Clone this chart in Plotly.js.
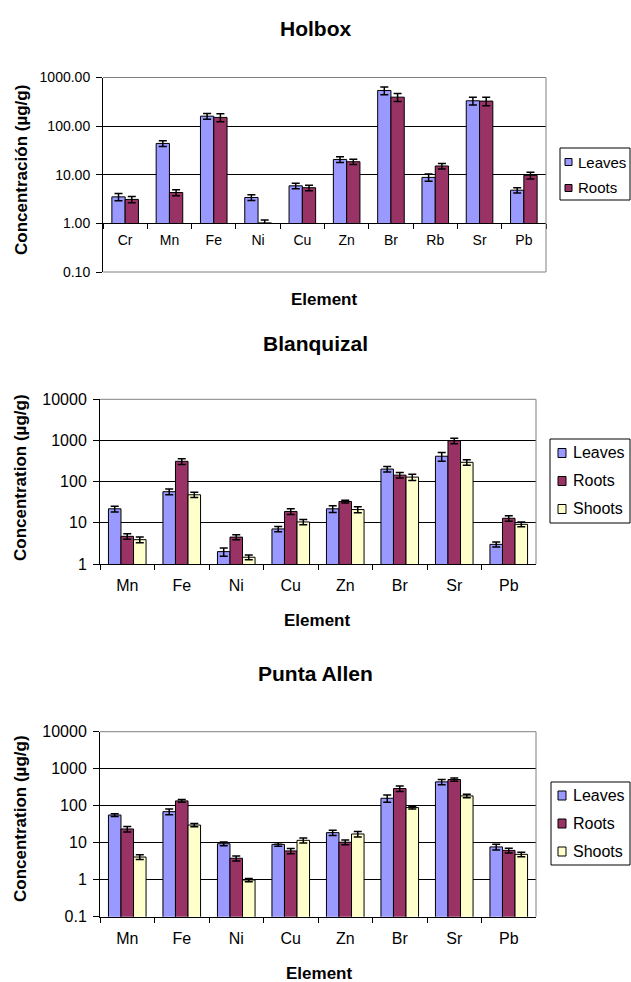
<!DOCTYPE html>
<html>
<head>
<meta charset="utf-8">
<script src="https://cdn.plot.ly/plotly-3.0.1.min.js"></script>
<style>
html,body{margin:0;padding:0;background:#fff;}
#chart{width:631px;height:982px;}
</style>
</head>
<body>
<div id="chart"></div>
<script>
// ---------- DATA ----------
const seriesNames = ["Leaves", "Roots", "Shoots"];
const seriesColors = ["#9999FF", "#993366", "#FFFFCC"];

// Holbox
const holboxElements = ["Cr", "Mn", "Fe", "Ni", "Cu", "Zn", "Br", "Rb", "Sr", "Pb"];
const holboxLeaves    = [3.5, 44, 160, 3.4, 5.9, 20.6, 541, 8.8, 332, 4.8];
const holboxLeavesErr = [0.6, 6, 22, 0.45, 0.75, 2.8, 100, 1.5, 60, 0.6];
const holboxRoots     = [3.1, 4.3, 151, 1.02, 5.4, 18.5, 394, 15.1, 327, 9.7];
const holboxRootsErr  = [0.45, 0.6, 28, 0.15, 0.7, 2.2, 75, 2, 65, 1.5];
const holboxTickVals  = [0.1, 1, 10, 100, 1000];
const holboxTickText  = ["0.10", "1.00", "10.00", "100.00", "1000.00"];
const holboxGridVals  = [10, 100];

// Blanquizal
const blanqElements   = ["Mn", "Fe", "Ni", "Cu", "Zn", "Br", "Sr", "Pb"];
const blanqLeaves     = [21.9, 57, 2.0, 7.1, 21.9, 202, 414, 3.0];
const blanqLeavesErr  = [3.5, 9, 0.45, 1, 4, 30, 100, 0.4];
const blanqRoots      = [4.7, 312, 4.5, 18.9, 33, 144, 984, 12.9];
const blanqRootsErr   = [0.7, 50, 0.6, 3, 2.5, 22, 150, 2];
const blanqShoots     = [3.9, 48, 1.46, 10.5, 21, 129, 295, 9.2];
const blanqShootsErr  = [0.6, 7, 0.2, 1.5, 3.5, 22, 45, 1.2];
const blanqTickVals   = [1, 10, 100, 1000, 10000];
const blanqTickText   = ["1", "10", "100", "1000", "10000"];

// Punta Allen
const puntaElements   = ["Mn", "Fe", "Ni", "Cu", "Zn", "Br", "Sr", "Pb"];
const puntaLeaves     = [56, 69, 9.4, 9.0, 18.7, 159, 441, 7.7];
const puntaLeavesErr  = [5, 12, 1.1, 1, 3, 35, 70, 1.4];
const puntaRoots      = [23.5, 135, 3.8, 6.0, 10.3, 291, 510, 6.2];
const puntaRootsErr   = [4, 12, 0.6, 1, 1.5, 50, 50, 0.9];
const puntaShoots     = [4.1, 30, 0.98, 11.6, 17.2, 89, 184, 4.85];
const puntaShootsErr  = [0.6, 3, 0.1, 1.8, 3, 8, 20, 0.7];
const puntaTickVals   = [0.1, 1, 10, 100, 1000, 10000];
const puntaTickText   = ["0.1", "1", "10", "100", "1000", "10000"];

// ---------- LAYOUT HELPERS ----------
const W = 631, H = 982;
const px = v => v / W;
const py = v => 1 - v / H;
const FONT = "Liberation Sans, Arial, sans-serif";

function barTrace(name, color, xs, ys, errs, xa, ya, width, offset) {
  return {
    type: "bar", name: name, x: xs, y: ys,
    xaxis: xa, yaxis: ya, width: width, offset: offset,
    marker: {color: color, line: {color: "#000", width: 1}},
    error_y: {type: "data", array: errs, visible: true, color: "#000", thickness: 1.5, width: 4},
    showlegend: false, hoverinfo: "skip"
  };
}

const data = [
  // Holbox
  barTrace(seriesNames[0], seriesColors[0], holboxElements, holboxLeaves, holboxLeavesErr, "x", "y", 0.3, -0.3),
  barTrace(seriesNames[1], seriesColors[1], holboxElements, holboxRoots, holboxRootsErr, "x", "y", 0.3, 0),
  {type: "scatter", x: [], y: [], xaxis: "x", yaxis: "y4", showlegend: false, hoverinfo: "skip"},
  // Blanquizal
  barTrace(seriesNames[0], seriesColors[0], blanqElements, blanqLeaves, blanqLeavesErr, "x2", "y2", 0.23, -0.345),
  barTrace(seriesNames[1], seriesColors[1], blanqElements, blanqRoots, blanqRootsErr, "x2", "y2", 0.23, -0.115),
  barTrace(seriesNames[2], seriesColors[2], blanqElements, blanqShoots, blanqShootsErr, "x2", "y2", 0.23, 0.115),
  // Punta Allen
  barTrace(seriesNames[0], seriesColors[0], puntaElements, puntaLeaves, puntaLeavesErr, "x3", "y3", 0.23, -0.345),
  barTrace(seriesNames[1], seriesColors[1], puntaElements, puntaRoots, puntaRootsErr, "x3", "y3", 0.23, -0.115),
  barTrace(seriesNames[2], seriesColors[2], puntaElements, puntaShoots, puntaShootsErr, "x3", "y3", 0.23, 0.115)
];

// chart geometry (pixels)
const c1 = {l: 103, r: 546, t: 77.5, b: 272, one: 223.3};
const c2 = {l: 100, r: 536, t: 399.3, b: 564};
const c3 = {l: 100, r: 536, t: 731.7, b: 916.7};

function catAxis(c, anchor, size, standoff, n) {
  return {
    type: "category", domain: [px(c.l), px(c.r)], anchor: anchor,
    range: [-0.5, n - 0.5], showline: true, linecolor: "#000", linewidth: 1,
    ticks: "outside", tickson: "boundaries", ticklen: 5, tickcolor: "#000", tickwidth: 1,
    tickfont: {size: size, color: "#000"}, ticklabelstandoff: standoff,
    showgrid: false, zeroline: false, fixedrange: true
  };
}
function valAxis(domain, range, anchor, vals, text, size) {
  return {
    type: "log", domain: domain, range: range, anchor: anchor,
    tickmode: "array", tickvals: vals, ticktext: text,
    ticks: "outside", ticklen: 6, tickcolor: "#000", tickwidth: 1,
    tickfont: {size: size, color: "#000"}, ticklabelstandoff: 3,
    showline: true, linecolor: "#000", linewidth: 1,
    showgrid: true, gridcolor: "#000", gridwidth: 1, zeroline: false, fixedrange: true
  };
}

const layout = {
  width: W, height: H,
  margin: {l: 0, r: 0, t: 0, b: 0, pad: 0, autoexpand: false},
  paper_bgcolor: "#fff", plot_bgcolor: "rgba(0,0,0,0)",
  font: {family: FONT, color: "#000"},
  showlegend: false, hovermode: false,
  barmode: "group",
  xaxis: catAxis(c1, "y", 14, 4, holboxElements.length),
  yaxis: {
    type: "log", domain: [py(c1.one), py(c1.t)], range: [0, 3], anchor: "x",
    tickmode: "array", tickvals: holboxGridVals, showticklabels: false, ticks: "",
    showline: false, showgrid: true, gridcolor: "#000", gridwidth: 1, zeroline: false, fixedrange: true
  },
  yaxis4: Object.assign(valAxis([py(c1.b), py(c1.t)], [-1, 3], "x", holboxTickVals, holboxTickText, 14), {showgrid: false}),
  xaxis2: catAxis(c2, "y2", 16, 7, blanqElements.length),
  yaxis2: valAxis([py(c2.b), py(c2.t)], [0, 4], "x2", blanqTickVals, blanqTickText, 16),
  xaxis3: catAxis(c3, "y3", 16, 7, puntaElements.length),
  yaxis3: valAxis([py(c3.b), py(c3.t)], [-1, 4], "x3", puntaTickVals, puntaTickText, 16),
  shapes: [],
  annotations: []
};

// gray plot-area border (top, right; bottom for Holbox)
function border(c, bottom) {
  const g = {color: "#808080", width: 1};
  layout.shapes.push({type: "line", xref: "paper", yref: "paper", x0: px(c.l), x1: px(c.r), y0: py(c.t), y1: py(c.t), line: g, layer: "above"});
  layout.shapes.push({type: "line", xref: "paper", yref: "paper", x0: px(c.r), x1: px(c.r), y0: py(c.t), y1: py(c.b), line: g, layer: "above"});
  if (bottom) layout.shapes.push({type: "line", xref: "paper", yref: "paper", x0: px(c.l), x1: px(c.r), y0: py(c.b), y1: py(c.b), line: g, layer: "above"});
}
border(c1, true); border(c2, false); border(c3, false);

// text helpers
function text(t, x, y, size, opts) {
  layout.annotations.push(Object.assign({
    text: t, xref: "paper", yref: "paper", x: px(x), y: py(y),
    xanchor: "center", yanchor: "middle", showarrow: false,
    font: {family: FONT, size: size, color: "#000"}
  }, opts || {}));
}

// titles
text("<b>Holbox</b>", 315, 28, 21);
text("<b>Blanquizal</b>", 315, 343, 21);
text("<b>Punta Allen</b>", 315, 673, 21);
// axis titles
text("<b>Concentración (µg/g)</b>", 22, 170, 17, {textangle: -90});
text("<b>Concentration (µg/g)</b>", 20, 478, 17, {textangle: -90});
text("<b>Concentration (µg/g)</b>", 20, 819, 17, {textangle: -90});
text("<b>Element</b>", 324, 300, 17);
text("<b>Element</b>", 317, 620, 17);
text("<b>Element</b>", 319, 973, 17);

// legends
function legend(box, count, itemYs, sw, sh, swX, txtX, size) {
  layout.shapes.push({type: "rect", xref: "paper", yref: "paper",
    x0: px(box.l), x1: px(box.r), y0: py(box.b), y1: py(box.t),
    line: {color: "#000", width: 1}, fillcolor: "#fff", layer: "above"});
  for (let i = 0; i < count; i++) {
    const yc = itemYs[i];
    layout.shapes.push({type: "rect", xref: "paper", yref: "paper",
      x0: px(swX), x1: px(swX + sw), y0: py(yc + sh / 2), y1: py(yc - sh / 2),
      line: {color: "#000", width: 1}, fillcolor: seriesColors[i], layer: "above"});
    text(seriesNames[i], txtX, yc, size, {xanchor: "left"});
  }
}
legend({l: 560, r: 630, t: 148, b: 200}, 2, [162, 188], 7, 7, 565, 576, 15);
legend({l: 550, r: 630, t: 439, b: 523}, 3, [453, 481, 509], 8, 9, 558, 571, 16);
legend({l: 551, r: 630, t: 782, b: 865}, 3, [795.5, 823.5, 851.5], 8, 9, 558, 571, 16);

Plotly.newPlot("chart", data, layout, {staticPlot: true, displayModeBar: false});
</script>
</body>
</html>
